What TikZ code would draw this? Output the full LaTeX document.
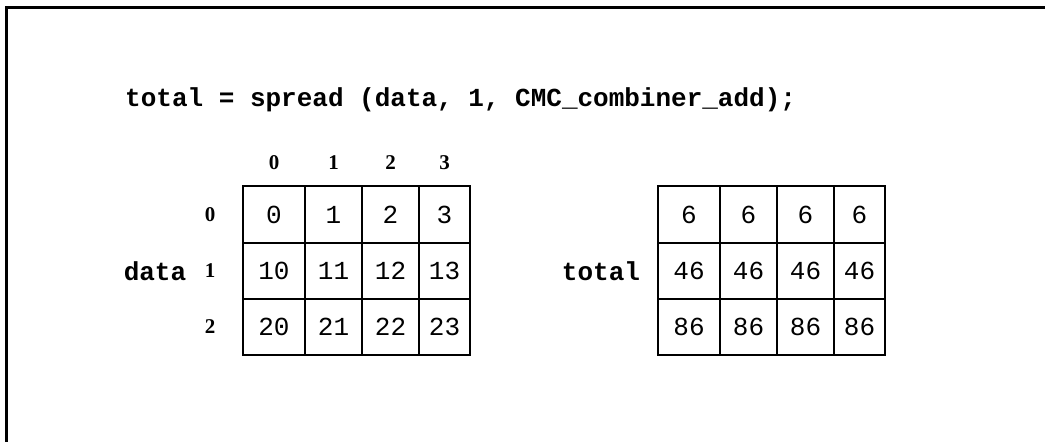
\documentclass[tikz,border=0pt]{standalone}
\usepackage{fontspec}
\setmonofont{Liberation Mono}
\newfontfamily\idxfont{Liberation Serif}

\begin{document}
\begin{tikzpicture}[
    x=1pt, y=-1pt,
    cell/.style={rectangle, draw, line width=1.6pt, inner sep=0pt, minimum height=56.5pt, font=\fontsize{26}{30}\selectfont\ttfamily},
    idx/.style={font=\fontsize{21}{24}\selectfont\idxfont\bfseries, inner sep=0pt},
    lbl/.style={font=\fontsize{26}{30}\selectfont\ttfamily\bfseries, inner sep=0pt}
]
\useasboundingbox (0,0) rectangle (1045,442);

% --- frame ---
\draw[line width=3pt] (6,442) -- (6,7) -- (1045,7);

% --- statement ---
\node[lbl, anchor=base west] (title) at (125,106) {total = spread (data, 1, CMC\_combiner\_add);};

% --- labels ---
\node[lbl] (data) at (155,271) {data};
\node[lbl] (total) at (601,271) {total};

% --- grids ---
\foreach \r/\ry in {0/214.5, 1/271, 2/327}
    \node[idx] (row\r) at (210,\ry) {\r};

\foreach \c/\cx/\cw in {0/274/62, 1/333.5/57, 2/390.5/57, 3/444.5/51} {
    \node[idx] (col\c) at (\cx,163) {\c};
    \foreach \r/\ry/\t in {0/214.5/6, 1/271/46, 2/327/86} {
        \pgfmathtruncatemacro\v{10*\r+\c}
        \node[cell, minimum width=\cw pt] (d\r\c) at (\cx,\ry) {\v};
        \node[cell, minimum width=\cw pt] (t\r\c) at (\cx+415,\ry) {\t};
    }
}

\end{tikzpicture}
\end{document}
